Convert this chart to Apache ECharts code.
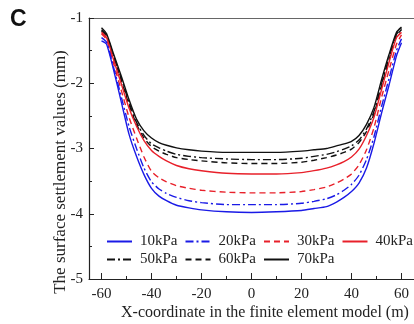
<!DOCTYPE html>
<html>
<head>
<meta charset="utf-8">
<style>
  html, body { margin: 0; padding: 0; background: #fff; }
  #chart { width: 414px; height: 324px; }
</style>
<script src="https://cdn.jsdelivr.net/npm/echarts@6/dist/echarts.min.js"></script>
</head>
<body>
<div id="chart"></div>
<script>
// x positions along the model (m)
const xCoords = [-60, -58, -55, -52, -49, -46, -43, -40, -37, -34, -30, -25, -20, -10, 0, 10, 20, 25, 30, 34, 37, 40, 43, 46, 49, 52, 55, 58, 60]

// settlement (mm) per load level
const s10 = [-1.35, -1.40, -1.82, -2.30, -2.78, -3.12, -3.40, -3.61, -3.73, -3.80, -3.87, -3.91, -3.94, -3.97, -3.98, -3.97, -3.95, -3.92, -3.89, -3.82, -3.75, -3.66, -3.53, -3.30, -2.92, -2.46, -2.03, -1.58, -1.38]
const s20 = [-1.30, -1.37, -1.78, -2.22, -2.66, -3.00, -3.30, -3.51, -3.62, -3.69, -3.75, -3.80, -3.83, -3.86, -3.86, -3.86, -3.84, -3.81, -3.77, -3.71, -3.64, -3.55, -3.41, -3.17, -2.82, -2.36, -1.93, -1.50, -1.32]
const s30 = [-1.24, -1.33, -1.72, -2.12, -2.52, -2.84, -3.13, -3.35, -3.45, -3.51, -3.57, -3.61, -3.64, -3.67, -3.68, -3.68, -3.66, -3.63, -3.59, -3.53, -3.47, -3.39, -3.25, -3.02, -2.68, -2.22, -1.80, -1.40, -1.26]
const s40 = [-1.22, -1.30, -1.66, -2.02, -2.38, -2.66, -2.88, -3.03, -3.12, -3.19, -3.26, -3.31, -3.34, -3.38, -3.39, -3.39, -3.37, -3.34, -3.30, -3.25, -3.20, -3.13, -3.01, -2.80, -2.52, -2.10, -1.68, -1.30, -1.22]
const s50 = [-1.18, -1.26, -1.60, -1.94, -2.29, -2.60, -2.80, -2.93, -2.99, -3.04, -3.09, -3.12, -3.14, -3.16, -3.17, -3.17, -3.15, -3.12, -3.09, -3.05, -3.01, -2.96, -2.87, -2.70, -2.43, -2.01, -1.61, -1.25, -1.16]
const s60 = [-1.20, -1.28, -1.62, -1.97, -2.33, -2.63, -2.84, -2.97, -3.04, -3.09, -3.14, -3.17, -3.19, -3.22, -3.23, -3.23, -3.21, -3.18, -3.14, -3.10, -3.06, -3.01, -2.91, -2.74, -2.47, -2.05, -1.64, -1.27, -1.18]
const s70 = [-1.15, -1.24, -1.57, -1.90, -2.25, -2.55, -2.73, -2.84, -2.91, -2.95, -2.99, -3.02, -3.04, -3.06, -3.06, -3.06, -3.04, -3.02, -3.00, -2.96, -2.93, -2.89, -2.80, -2.63, -2.37, -1.95, -1.56, -1.22, -1.14]

const seriesNames = ['10kPa', '20kPa', '30kPa', '40kPa', '50kPa', '60kPa', '70kPa']
const xMajorTicks = [-60, -40, -20, 0, 20, 40, 60]
const xMinorTicks = [-50, -30, -10, 10, 30, 50]

const serif = '"Liberation Serif", "DejaVu Serif", serif'
const dashDot = [8, 3, 2, 3]
const dashed = [6, 4]

const styles = [
  { color: '#1a1ae6', type: 'solid' },
  { color: '#1a1ae6', type: dashDot },
  { color: '#e8202a', type: dashed },
  { color: '#e8202a', type: 'solid' },
  { color: '#111', type: dashDot },
  { color: '#111', type: dashed },
  { color: '#111', type: 'solid' },
]

const allValues = [s10, s20, s30, s40, s50, s60, s70]

const chart = echarts.init(document.getElementById('chart'))

const series = allValues.map((vals, i) => ({
  name: seriesNames[i],
  type: 'line',
  xAxisIndex: 0,
  data: vals.map((v, j) => [xCoords[j], v]),
  symbol: 'none',
  symbolSize: 0,
  smooth: 0.2,
  lineStyle: { width: 1.4, color: styles[i].color, type: styles[i].type },
  itemStyle: { color: styles[i].color },
  z: 10 - i,
}))

const legendBase = {
  orient: 'horizontal',
  left: 101,
  width: 320,
  itemWidth: 25,
  itemHeight: 10,
  itemGap: 7,
  itemStyle: { opacity: 0 },
  textStyle: { fontFamily: serif, fontSize: 15, color: '#222', padding: [0, 0, 0, 3] },
  selectedMode: false,
}

chart.setOption({
  animation: false,
  grid: { left: 89, right: 0, top: 18, bottom: 45 },
  legend: [
    Object.assign({}, legendBase, { top: 229, data: seriesNames.slice(0, 4) }),
    Object.assign({}, legendBase, { top: 247, data: seriesNames.slice(4) }),
  ],
  xAxis: [
    {
      type: 'value',
      min: -65,
      max: 65,
      position: 'bottom',
      axisLine: { onZero: false, lineStyle: { color: '#222', width: 1.2 } },
      axisTick: { inside: true, length: 6, customValues: xMajorTicks, lineStyle: { color: '#222' } },
      axisLabel: { customValues: xMajorTicks, fontFamily: serif, fontSize: 15, color: '#222', margin: 8 },
      splitLine: { show: false },
    },
    {
      type: 'value',
      min: -65,
      max: 65,
      position: 'bottom',
      axisLine: { show: false, onZero: false },
      axisTick: { inside: true, length: 3, customValues: xMinorTicks, lineStyle: { color: '#222' } },
      axisLabel: { show: false },
      splitLine: { show: false },
    },
    {
      type: 'value',
      min: -65,
      max: 65,
      position: 'top',
      axisLine: { onZero: false, lineStyle: { color: '#666', width: 1.2 } },
      axisTick: { show: false },
      axisLabel: { show: false },
      splitLine: { show: false },
    },
  ],
  yAxis: {
    type: 'value',
    min: -5,
    max: -1,
    interval: 1,
    axisLine: { show: true, onZero: false, lineStyle: { color: '#222', width: 1.2 } },
    axisTick: { inside: true, length: 5, lineStyle: { color: '#222' } },
    minorTick: { show: true, splitNumber: 2, length: 3, lineStyle: { color: '#222' } },
    axisLabel: { fontFamily: serif, fontSize: 15, color: '#222', margin: 6 },
    splitLine: { show: false },
  },
  graphic: [
    {
      type: 'text',
      left: 10,
      top: 8,
      style: { text: 'C', font: 'bold 23px "Liberation Sans", Arial, sans-serif', fill: '#111' },
    },
    {
      type: 'text',
      x: 265,
      y: 313,
      style: {
        text: 'X-coordinate in the finite element model (m)',
        font: '16px ' + serif,
        fill: '#222',
        align: 'center',
        verticalAlign: 'middle',
      },
    },
    {
      type: 'text',
      x: 61,
      y: 172,
      rotation: Math.PI / 2,
      style: {
        text: 'The surface settlement values (mm)',
        font: '17px ' + serif,
        fill: '#222',
        align: 'center',
        verticalAlign: 'middle',
      },
    },
  ],
  series: series,
})
</script>
</body>
</html>
